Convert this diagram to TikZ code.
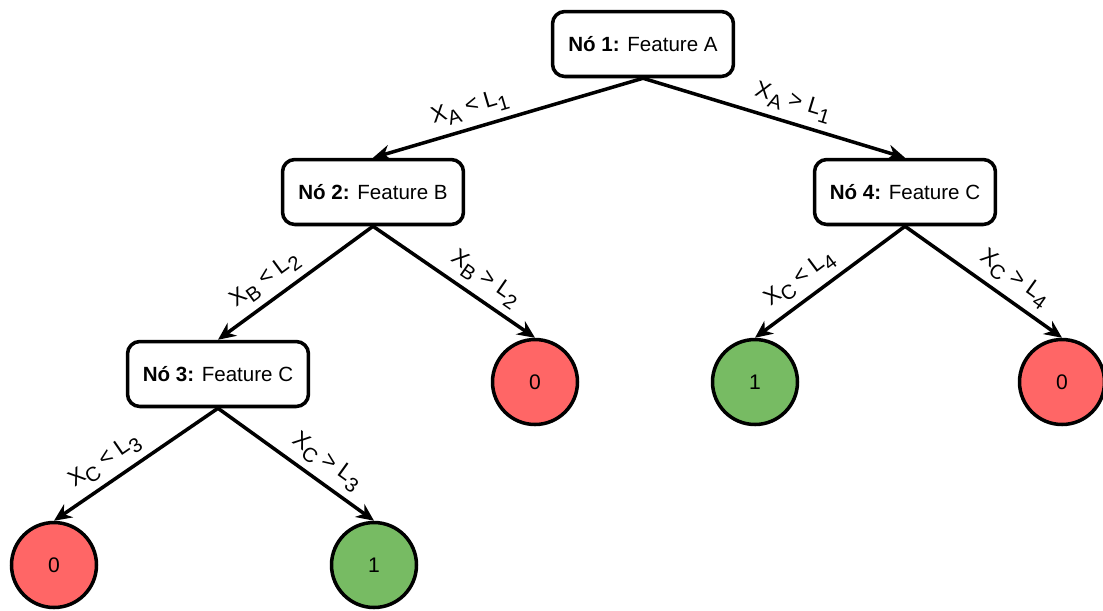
\documentclass[tikz,border=0pt]{standalone}
\usepackage{fontspec}
\setmainfont{Liberation Sans}
\usetikzlibrary{arrows.meta}
\definecolor{leafred}{RGB}{255,102,102}
\definecolor{leafgreen}{RGB}{119,187,99}
\newcommand{\lsub}[1]{\raisebox{-0.55ex}{\fontsize{11.5}{13}\selectfont #1}}
\tikzset{
    treenode/.style={draw, rounded corners=7pt, line width=2pt, minimum width=3.62cm, minimum height=1.3cm, font=\fontsize{11.7}{14}\selectfont},
    leaf/.style={draw, circle, line width=2pt, minimum size=1.7cm, inner sep=0pt, font=\fontsize{12}{14}\selectfont},
    branch/.style={line width=2pt, -{Stealth[length=10pt, width=9pt]}},
    cut/.style={sloped, above=2pt, pos=0.62, inner sep=2pt, font=\fontsize{13}{15}\selectfont}
}

\begin{document}
\begin{tikzpicture}[x=0.02cm, y=-0.02cm]
    % canvas, in pixels of the sketch
    \useasboundingbox (0,0) rectangle (1103,610);

    % decision nodes
    \node[treenode] (n1) at (643,44)  {\textbf{Nó 1:} Feature A};
    \node[treenode] (n2) at (373,192) {\textbf{Nó 2:} Feature B};
    \node[treenode] (n4) at (905,192) {\textbf{Nó 4:} Feature C};
    \node[treenode] (n3) at (218,374) {\textbf{Nó 3:} Feature C};

    % leaves
    \node[leaf, fill=leafred]   (l2)  at (535,382)  {0};
    \node[leaf, fill=leafgreen] (l4a) at (755,382)  {1};
    \node[leaf, fill=leafred]   (l4b) at (1062,382) {0};
    \node[leaf, fill=leafred]   (l3a) at (54,565)   {0};
    \node[leaf, fill=leafgreen] (l3b) at (374,565)  {1};

    % splits
    \draw[branch] (n1.south) -- node[cut] {X\lsub{A} < L\lsub{1}} (n2.north);
    \draw[branch] (n1.south) -- node[cut, pos=0.55] {X\lsub{A} > L\lsub{1}} (n4.north);
    \draw[branch] (n2.south) -- node[cut] {X\lsub{B} < L\lsub{2}} (n3.north);
    \draw[branch] (n2.south) -- node[cut] {X\lsub{B} > L\lsub{2}} (l2.north);
    \draw[branch] (n4.south) -- node[cut] {X\lsub{C} < L\lsub{4}} (l4a.north);
    \draw[branch] (n4.south) -- node[cut] {X\lsub{C} > L\lsub{4}} (l4b.north);
    \draw[branch] (n3.south) -- node[cut] {X\lsub{C} < L\lsub{3}} (l3a.north);
    \draw[branch] (n3.south) -- node[cut] {X\lsub{C} > L\lsub{3}} (l3b.north);
\end{tikzpicture}
\end{document}
